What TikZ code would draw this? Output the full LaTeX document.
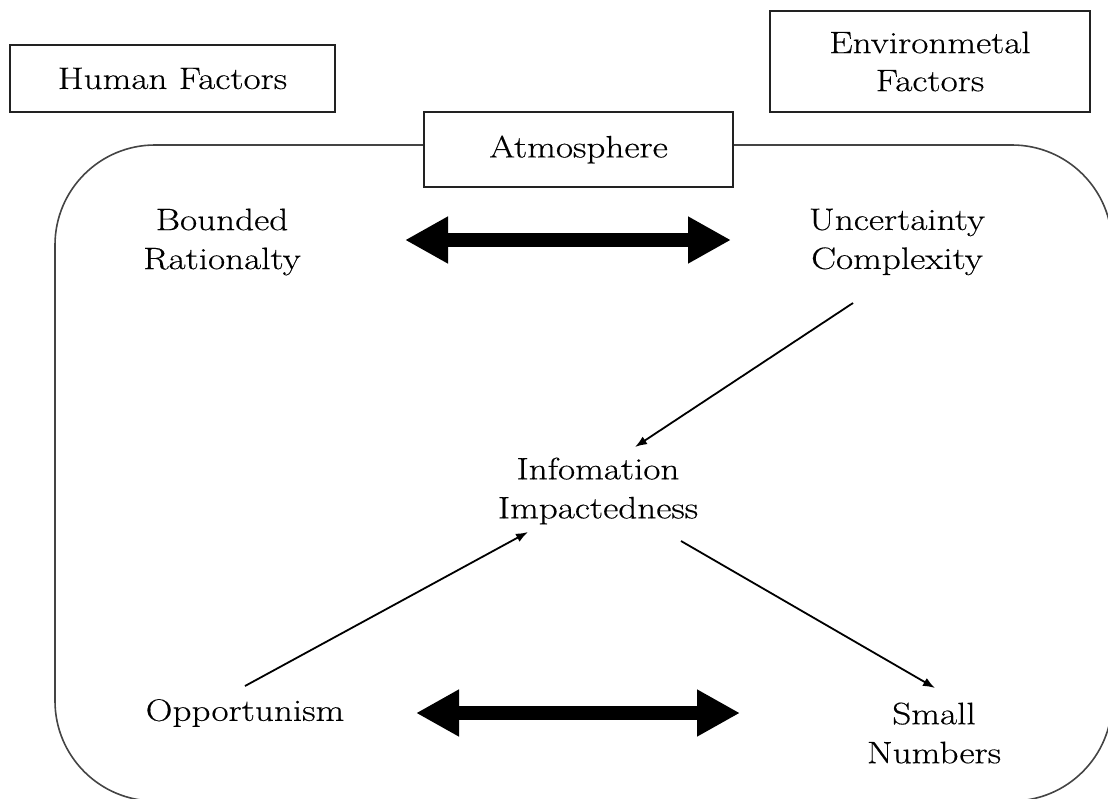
\documentclass[tikz,border=0pt]{standalone}
\usepackage{fontspec}
\setmainfont{Latin Modern Roman}[FakeStretch=1.2,FakeBold=0.4]
\usetikzlibrary{arrows.meta}
\definecolor{framegray}{HTML}{444444}
\definecolor{boxgray}{HTML}{222222}
\begin{document}
\begin{tikzpicture}[x=1pt,y=-1pt,
  txt/.style={align=center,font=\fontsize{31}{39}\selectfont,inner sep=0pt},
  boxnode/.style={draw=boxgray,line width=2pt,fill=white,align=center,font=\fontsize{31}{38}\selectfont,inner sep=0pt},
  framebox/.style={draw=framegray,line width=1.6pt,rounded corners=100pt},
  bigarrow/.style={line width=14pt,{Triangle[length=43pt,width=44pt]}-{Triangle[length=43pt,width=44pt]}},
  thinarrow/.style={line width=1.8pt,-{Latex[length=12pt,width=9pt]}}]
\useasboundingbox (0,0) rectangle (1108,798);
\begin{scope}
  \clip (0,0) rectangle (1108,798);
  \draw[framebox] (55,145) rectangle (1112,801);
\end{scope}
\node[boxnode,minimum width=325pt,minimum height=67pt] (hf) at (172.5,78.5) {Human Factors};
\node[boxnode,minimum width=320pt,minimum height=101pt] (ef) at (930,61.5) {Environmetal\\Factors};
\node[boxnode,minimum width=309pt,minimum height=75pt] (at) at (578.5,149.5) {Atmosphere};
\node[txt] (br) at (222,242) {Bounded\\Rationalty};
\node[txt] (uc) at (897,242) {Uncertainty\\Complexity};
\node[txt] (ii) at (598,491) {Infomation\\Impactedness};
\node[txt] (op) at (245,713) {Opportunism};
\node[txt] (sn) at (934,733) {Small\\Numbers};
\coordinate (a1) at (405,240);
\coordinate (a2) at (731,240);
\coordinate (b1) at (416,713);
\coordinate (b2) at (740,713);
\draw[bigarrow] (a1) -- (a2);
\draw[bigarrow] (b1) -- (b2);
\coordinate (ucout) at (853,303);
\coordinate (iiin1) at (635,447);
\coordinate (opout) at (245,686);
\coordinate (iiin2) at (528,532);
\coordinate (iiout) at (681,541);
\coordinate (snin) at (935,688);
\draw[thinarrow] (ucout) -- (iiin1);
\draw[thinarrow] (opout) -- (iiin2);
\draw[thinarrow] (iiout) -- (snin);
\end{tikzpicture}
\end{document}
